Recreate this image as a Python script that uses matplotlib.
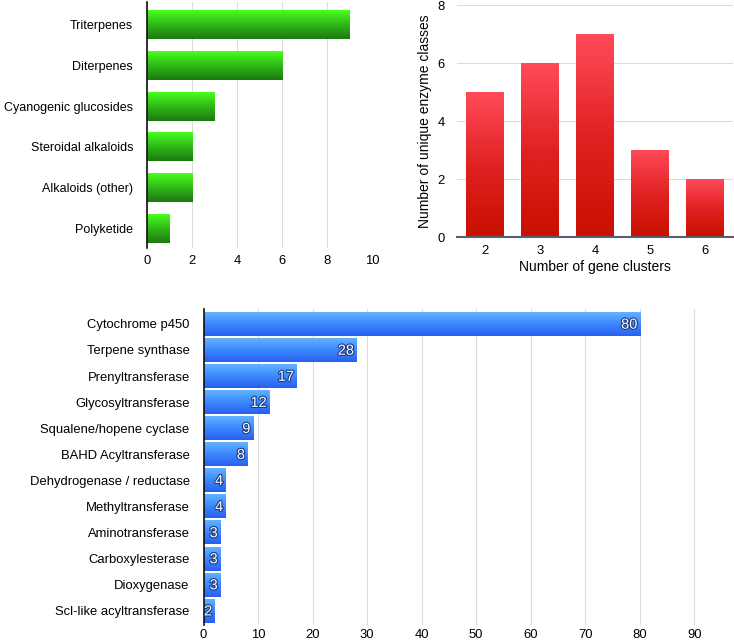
import numpy as np
import matplotlib
matplotlib.use('Agg')
import matplotlib.pyplot as plt
import matplotlib.patheffects as pe
from matplotlib.colors import LinearSegmentedColormap

# top-left: compound classes
compound_classes = ['Triterpenes', 'Diterpenes', 'Cyanogenic glucosides',
                    'Steroidal alkaloids', 'Alkaloids (other)', 'Polyketide']
compound_counts = [9, 6, 3, 2, 2, 1]

# top-right: enzyme classes vs gene clusters
gene_clusters = [2, 3, 4, 5, 6]
enzyme_classes = [5, 6, 7, 3, 2]

# bottom: enzyme families
enzyme_families = ['Cytochrome p450', 'Terpene synthase', 'Prenyltransferase',
                   'Glycosyltransferase', 'Squalene/hopene cyclase', 'BAHD Acyltransferase',
                   'Dehydrogenase / reductase', 'Methyltransferase', 'Aminotransferase',
                   'Carboxylesterase', 'Dioxygenase', 'Scl-like acyltransferase']
family_counts = [80, 28, 17, 12, 9, 8, 4, 4, 3, 3, 3, 2]

plt.rcParams['font.family'] = ['Liberation Sans', 'DejaVu Sans']
grid_col = '#dcdcdc'
fs = 9.4

green = LinearSegmentedColormap.from_list('g', ['#1c7a10', '#2fb818', '#48ff1c'])
red = LinearSegmentedColormap.from_list('r', ['#c81000', '#e02222', '#ff4a58'])
blue = LinearSegmentedColormap.from_list('b', ['#2860f0', '#3c88ff', '#62b2ff'])


def shade(ax, bars, cmap, horizontal):
    # fill every bar with a vertical gradient (light at top, dark at bottom)
    grad = np.linspace(0, 1, 64).reshape(-1, 1)
    for b in bars:
        x0, y0, w, h = b.get_x(), b.get_y(), b.get_width(), b.get_height()
        if horizontal:
            # y axis is inverted: top of bar is y0
            ext = (x0, x0 + w, y0 + h, y0)
        else:
            ext = (x0, x0 + w, y0, y0 + h)
        ax.imshow(grad, cmap=cmap, extent=ext, aspect='auto', origin='lower',
                  zorder=2, interpolation='bicubic')
        b.set_visible(False)


fig = plt.figure(figsize=(7.34, 6.43), dpi=100)

# ---- top left
ax1 = fig.add_axes([0.2003, 0.6143, 0.3066, 0.3826])
ypos = np.arange(len(compound_classes))
bars1 = ax1.barh(ypos, compound_counts, height=0.71, color='#30c020', zorder=2)
shade(ax1, bars1, green, True)
ax1.set_xlim(0, 10)
ax1.set_ylim(5.48, -0.55)
ax1.set_yticks(ypos)
ax1.set_yticklabels(compound_classes, fontsize=9.0)
ax1.set_xticks([0, 2, 4, 6, 8, 10])
ax1.tick_params(axis='x', length=0, labelsize=fs, pad=5)
ax1.tick_params(axis='y', length=0, pad=10)
ax1.xaxis.grid(True, color=grid_col, lw=0.8, zorder=0)
ax1.set_axisbelow(True)
for s in ['top', 'right', 'bottom']:
    ax1.spines[s].set_visible(False)
ax1.spines['left'].set_color('#111111')
ax1.spines['left'].set_linewidth(1.2)
ax1.spines['left'].set_zorder(3)

# ---- top right
ax2 = fig.add_axes([0.6226, 0.6314, 0.376, 0.3608])
bars2 = ax2.bar(gene_clusters, enzyme_classes, width=0.69, color='#e02222', zorder=2)
shade(ax2, bars2, red, False)
ax2.set_xlim(1.49, 6.51)
ax2.set_ylim(0, 8)
ax2.set_xticks(gene_clusters)
ax2.set_yticks([0, 2, 4, 6, 8])
ax2.tick_params(length=0, labelsize=fs, pad=6)
ax2.tick_params(axis='y', pad=9)
ax2.yaxis.grid(True, color=grid_col, lw=0.8, zorder=0)
ax2.set_axisbelow(True)
ax2.set_xlabel('Number of gene clusters', fontsize=fs + 0.6, labelpad=2)
ax2.set_ylabel('Number of unique enzyme classes', fontsize=fs + 0.6, labelpad=4)
for s in ['top', 'right', 'left']:
    ax2.spines[s].set_visible(False)
ax2.spines['bottom'].set_color('#5a5e70')
ax2.spines['bottom'].set_linewidth(1.5)
ax2.spines['bottom'].set_zorder(3)

# ---- bottom
ax3 = fig.add_axes([0.2773, 0.028, 0.7227, 0.4914])
ypos3 = np.arange(len(enzyme_families))
bars3 = ax3.barh(ypos3, family_counts, height=0.92, color='#3c88ff', zorder=2)
shade(ax3, bars3, blue, True)
ax3.set_xlim(0, 97.3)
ax3.set_ylim(11.55, -0.57)
ax3.set_yticks(ypos3)
ax3.set_yticklabels(enzyme_families, fontsize=fs)
ax3.set_xticks(range(0, 100, 10))
ax3.tick_params(length=0, labelsize=fs, pad=3)
ax3.tick_params(axis='y', pad=10)
ax3.xaxis.grid(True, color=grid_col, lw=0.8, zorder=0)
ax3.set_axisbelow(True)
for s in ['top', 'right', 'bottom']:
    ax3.spines[s].set_visible(False)
ax3.spines['left'].set_color('#111111')
ax3.spines['left'].set_linewidth(1.2)
ax3.spines['left'].set_zorder(3)
for y, v in zip(ypos3, family_counts):
    ax3.text(v - 0.4, y + 0.03, str(v), ha='right', va='center', fontsize=10.5,
             color='white', zorder=4,
             path_effects=[pe.withStroke(linewidth=1.6, foreground='#1a3a80')])

fig.savefig('out.png', dpi=100)
